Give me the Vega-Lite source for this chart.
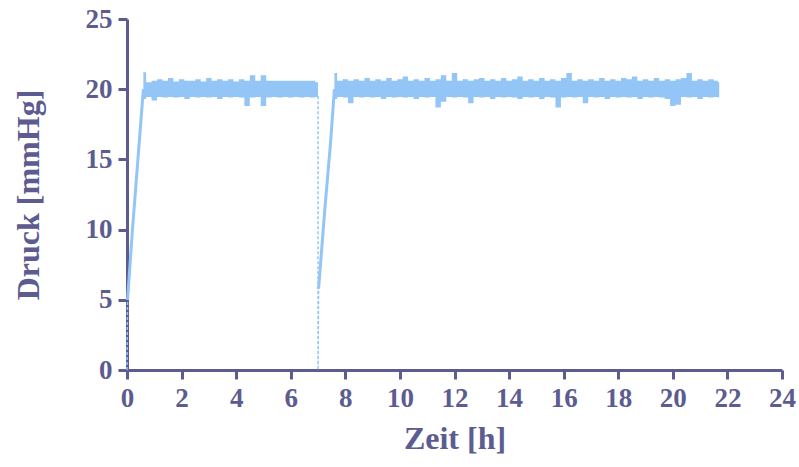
{
  "$schema": "https://vega.github.io/schema/vega-lite/v6.json",
  "autosize": "none",
  "width": 655,
  "height": 351,
  "padding": {"left": 127, "top": 19, "right": 17, "bottom": 97},
  "background": "white",
  "config": {
    "view": {"stroke": null},
    "axis": {
      "grid": false,
      "domainColor": "#5c5c90",
      "domainWidth": 3,
      "tickColor": "#5c5c90",
      "tickWidth": 3,
      "tickSize": 9,
      "labelColor": "#5c5c90",
      "labelFont": "Liberation Serif",
      "labelFontWeight": "bold",
      "labelFontSize": 27,
      "titleColor": "#5c5c90",
      "titleFont": "Liberation Serif",
      "titleFontWeight": "bold",
      "titleFontSize": 32
    }
  },
  "datasets": {
    "band": [
      {"seg": 1, "t": 0.6, "lo": 19.3, "hi": 21.2},
      {"seg": 1, "t": 0.8, "lo": 19.45, "hi": 20.5},
      {"seg": 1, "t": 1.0, "lo": 19.2, "hi": 20.6},
      {"seg": 1, "t": 1.2, "lo": 19.45, "hi": 20.7},
      {"seg": 1, "t": 1.4, "lo": 19.4, "hi": 20.6},
      {"seg": 1, "t": 1.6, "lo": 19.45, "hi": 20.8},
      {"seg": 1, "t": 1.8, "lo": 19.4, "hi": 20.55},
      {"seg": 1, "t": 2.0, "lo": 19.45, "hi": 20.7},
      {"seg": 1, "t": 2.2, "lo": 19.3, "hi": 20.6},
      {"seg": 1, "t": 2.4, "lo": 19.45, "hi": 20.6},
      {"seg": 1, "t": 2.6, "lo": 19.4, "hi": 20.7},
      {"seg": 1, "t": 2.8, "lo": 19.45, "hi": 20.55},
      {"seg": 1, "t": 3.0, "lo": 19.4, "hi": 20.8},
      {"seg": 1, "t": 3.2, "lo": 19.45, "hi": 20.6},
      {"seg": 1, "t": 3.4, "lo": 19.3, "hi": 20.7},
      {"seg": 1, "t": 3.6, "lo": 19.45, "hi": 20.6},
      {"seg": 1, "t": 3.8, "lo": 19.4, "hi": 20.7},
      {"seg": 1, "t": 4.0, "lo": 19.45, "hi": 20.55},
      {"seg": 1, "t": 4.2, "lo": 19.4, "hi": 20.7},
      {"seg": 1, "t": 4.4, "lo": 18.8, "hi": 20.6},
      {"seg": 1, "t": 4.6, "lo": 19.4, "hi": 21.0},
      {"seg": 1, "t": 4.8, "lo": 19.45, "hi": 20.6},
      {"seg": 1, "t": 5.0, "lo": 18.8, "hi": 21.0},
      {"seg": 1, "t": 5.2, "lo": 19.4, "hi": 20.6},
      {"seg": 1, "t": 5.4, "lo": 19.45, "hi": 20.6},
      {"seg": 1, "t": 5.6, "lo": 19.4, "hi": 20.6},
      {"seg": 1, "t": 5.8, "lo": 19.45, "hi": 20.6},
      {"seg": 1, "t": 6.0, "lo": 19.4, "hi": 20.6},
      {"seg": 1, "t": 6.2, "lo": 19.45, "hi": 20.6},
      {"seg": 1, "t": 6.4, "lo": 19.4, "hi": 20.6},
      {"seg": 1, "t": 6.6, "lo": 19.45, "hi": 20.6},
      {"seg": 1, "t": 6.8, "lo": 19.4, "hi": 20.6},
      {"seg": 1, "t": 7.0, "lo": 19.45, "hi": 20.5},
      {"seg": 2, "t": 7.6, "lo": 19.3, "hi": 21.15},
      {"seg": 2, "t": 7.8, "lo": 19.45, "hi": 20.6},
      {"seg": 2, "t": 8.0, "lo": 19.4, "hi": 20.7},
      {"seg": 2, "t": 8.2, "lo": 19.0, "hi": 20.6},
      {"seg": 2, "t": 8.4, "lo": 19.45, "hi": 20.7},
      {"seg": 2, "t": 8.6, "lo": 19.4, "hi": 20.6},
      {"seg": 2, "t": 8.8, "lo": 19.45, "hi": 20.8},
      {"seg": 2, "t": 9.0, "lo": 19.4, "hi": 20.6},
      {"seg": 2, "t": 9.2, "lo": 19.45, "hi": 20.7},
      {"seg": 2, "t": 9.4, "lo": 19.3, "hi": 20.6},
      {"seg": 2, "t": 9.6, "lo": 19.45, "hi": 20.8},
      {"seg": 2, "t": 9.8, "lo": 19.4, "hi": 20.6},
      {"seg": 2, "t": 10.0, "lo": 19.45, "hi": 20.7},
      {"seg": 2, "t": 10.2, "lo": 19.4, "hi": 20.9},
      {"seg": 2, "t": 10.4, "lo": 19.45, "hi": 20.6},
      {"seg": 2, "t": 10.6, "lo": 19.3, "hi": 20.7},
      {"seg": 2, "t": 10.8, "lo": 19.45, "hi": 20.6},
      {"seg": 2, "t": 11.0, "lo": 19.4, "hi": 20.8},
      {"seg": 2, "t": 11.2, "lo": 19.45, "hi": 20.6},
      {"seg": 2, "t": 11.4, "lo": 18.7, "hi": 20.7},
      {"seg": 2, "t": 11.6, "lo": 19.1, "hi": 21.0},
      {"seg": 2, "t": 11.8, "lo": 19.45, "hi": 20.6},
      {"seg": 2, "t": 12.0, "lo": 19.4, "hi": 21.15},
      {"seg": 2, "t": 12.2, "lo": 19.45, "hi": 20.6},
      {"seg": 2, "t": 12.4, "lo": 19.4, "hi": 20.7},
      {"seg": 2, "t": 12.6, "lo": 19.0, "hi": 20.6},
      {"seg": 2, "t": 12.8, "lo": 19.45, "hi": 20.7},
      {"seg": 2, "t": 13.0, "lo": 19.4, "hi": 20.8},
      {"seg": 2, "t": 13.2, "lo": 19.45, "hi": 20.6},
      {"seg": 2, "t": 13.4, "lo": 19.3, "hi": 20.7},
      {"seg": 2, "t": 13.6, "lo": 19.45, "hi": 20.6},
      {"seg": 2, "t": 13.8, "lo": 19.4, "hi": 20.8},
      {"seg": 2, "t": 14.0, "lo": 19.45, "hi": 20.6},
      {"seg": 2, "t": 14.2, "lo": 19.4, "hi": 20.7},
      {"seg": 2, "t": 14.4, "lo": 19.3, "hi": 20.9},
      {"seg": 2, "t": 14.6, "lo": 19.45, "hi": 20.6},
      {"seg": 2, "t": 14.8, "lo": 19.4, "hi": 20.7},
      {"seg": 2, "t": 15.0, "lo": 19.45, "hi": 20.6},
      {"seg": 2, "t": 15.2, "lo": 19.3, "hi": 20.8},
      {"seg": 2, "t": 15.4, "lo": 19.45, "hi": 20.6},
      {"seg": 2, "t": 15.6, "lo": 19.4, "hi": 20.7},
      {"seg": 2, "t": 15.8, "lo": 18.7, "hi": 20.6},
      {"seg": 2, "t": 16.0, "lo": 19.4, "hi": 20.8},
      {"seg": 2, "t": 16.2, "lo": 19.45, "hi": 21.15},
      {"seg": 2, "t": 16.4, "lo": 19.4, "hi": 20.6},
      {"seg": 2, "t": 16.6, "lo": 19.45, "hi": 20.7},
      {"seg": 2, "t": 16.8, "lo": 19.0, "hi": 20.6},
      {"seg": 2, "t": 17.0, "lo": 19.45, "hi": 20.7},
      {"seg": 2, "t": 17.2, "lo": 19.4, "hi": 20.6},
      {"seg": 2, "t": 17.4, "lo": 19.45, "hi": 20.8},
      {"seg": 2, "t": 17.6, "lo": 19.3, "hi": 20.6},
      {"seg": 2, "t": 17.8, "lo": 19.45, "hi": 20.7},
      {"seg": 2, "t": 18.0, "lo": 19.4, "hi": 20.6},
      {"seg": 2, "t": 18.2, "lo": 19.45, "hi": 20.8},
      {"seg": 2, "t": 18.4, "lo": 19.4, "hi": 20.7},
      {"seg": 2, "t": 18.6, "lo": 19.45, "hi": 20.9},
      {"seg": 2, "t": 18.8, "lo": 19.3, "hi": 20.6},
      {"seg": 2, "t": 19.0, "lo": 19.45, "hi": 20.7},
      {"seg": 2, "t": 19.2, "lo": 19.4, "hi": 20.6},
      {"seg": 2, "t": 19.4, "lo": 19.45, "hi": 20.8},
      {"seg": 2, "t": 19.6, "lo": 19.4, "hi": 20.6},
      {"seg": 2, "t": 19.8, "lo": 19.3, "hi": 20.7},
      {"seg": 2, "t": 20.0, "lo": 18.8, "hi": 20.6},
      {"seg": 2, "t": 20.2, "lo": 18.9, "hi": 20.7},
      {"seg": 2, "t": 20.4, "lo": 19.45, "hi": 20.8},
      {"seg": 2, "t": 20.6, "lo": 19.4, "hi": 21.15},
      {"seg": 2, "t": 20.8, "lo": 19.45, "hi": 20.6},
      {"seg": 2, "t": 21.0, "lo": 19.3, "hi": 20.7},
      {"seg": 2, "t": 21.2, "lo": 19.45, "hi": 20.6},
      {"seg": 2, "t": 21.4, "lo": 19.4, "hi": 20.7},
      {"seg": 2, "t": 21.6, "lo": 19.45, "hi": 20.6},
      {"seg": 2, "t": 21.7, "lo": 19.4, "hi": 20.5}
    ],
    "ramps": [
      {"part": "r1", "t": 0.02, "p": 5.0},
      {"part": "r1", "t": 0.2, "p": 10.0},
      {"part": "r1", "t": 0.4, "p": 15.0},
      {"part": "r1", "t": 0.6, "p": 20.0},
      {"part": "r2", "t": 7.02, "p": 5.8},
      {"part": "r2", "t": 7.25, "p": 11.5},
      {"part": "r2", "t": 7.45, "p": 16.0},
      {"part": "r2", "t": 7.6, "p": 20.0}
    ],
    "gaps": [
      {"part": "d1", "t": 0.0, "p": 0.0},
      {"part": "d1", "t": 0.02, "p": 5.0},
      {"part": "d2", "t": 7.0, "p": 19.5},
      {"part": "d2", "t": 7.0, "p": 0.0},
      {"part": "d2", "t": 7.02, "p": 5.8}
    ]
  },
  "layer": [
    {
      "data": {"name": "band"},
      "mark": {"type": "area", "interpolate": "step", "color": "#93c5f7", "opacity": 1},
      "encoding": {
        "x": {
          "field": "t", "type": "quantitative",
          "scale": {"domain": [0, 24], "nice": false, "zero": false},
          "axis": {
            "values": [0, 2, 4, 6, 8, 10, 12, 14, 16, 18, 20, 22, 24],
            "title": "Zeit [h]",
            "labelPadding": 6,
            "titlePadding": 12,
            "labelFlush": false
          }
        },
        "y": {
          "field": "lo", "type": "quantitative",
          "scale": {"domain": [0, 25], "nice": false},
          "axis": {
            "values": [0, 5, 10, 15, 20, 25],
            "title": "Druck [mmHg]",
            "labelPadding": 6,
            "titlePadding": 40,
            "labelFlush": false
          }
        },
        "y2": {"field": "hi"},
        "detail": {"field": "seg", "type": "nominal"}
      }
    },
    {
      "data": {"name": "ramps"},
      "mark": {"type": "line", "color": "#93c5f7", "strokeWidth": 3},
      "encoding": {
        "x": {"field": "t", "type": "quantitative"},
        "y": {"field": "p", "type": "quantitative"},
        "detail": {"field": "part", "type": "nominal"}
      }
    },
    {
      "data": {"name": "gaps"},
      "mark": {"type": "line", "color": "#93c5f7", "strokeWidth": 1.5, "strokeDash": [3, 2]},
      "encoding": {
        "x": {"field": "t", "type": "quantitative"},
        "y": {"field": "p", "type": "quantitative"},
        "detail": {"field": "part", "type": "nominal"}
      }
    }
  ]
}
